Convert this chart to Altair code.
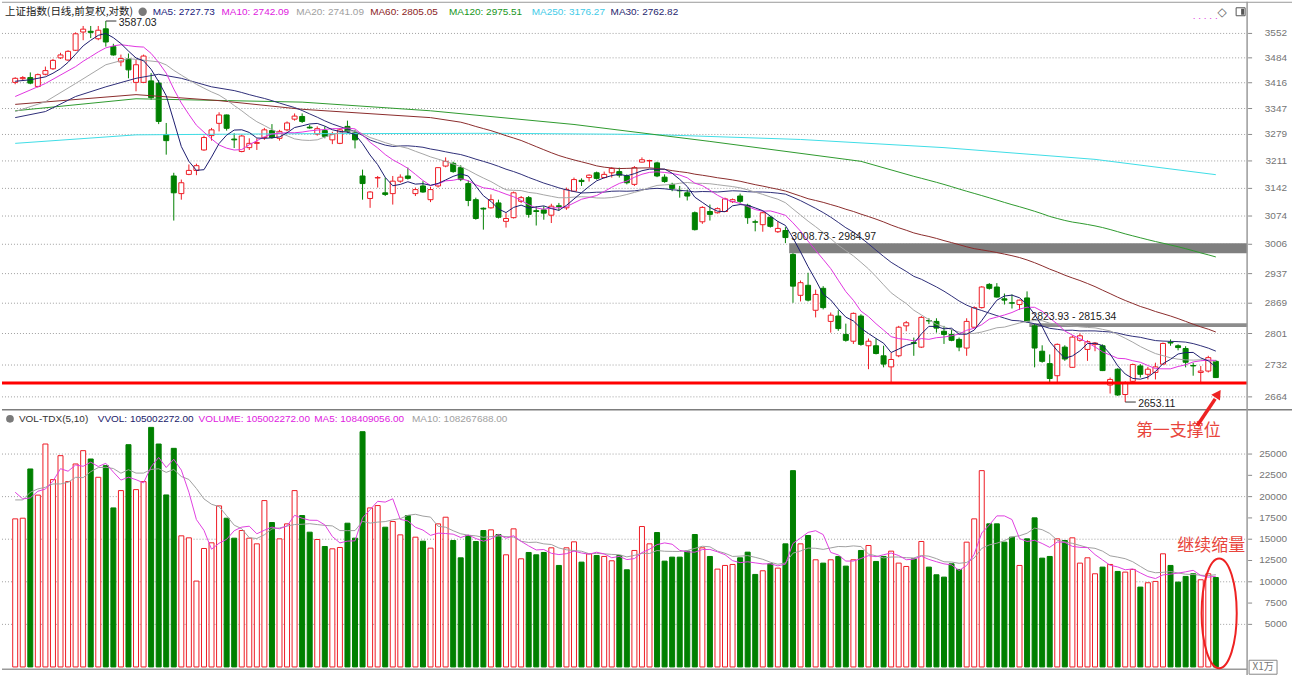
import altair as alt
import pandas as pd

# ---------------- data ----------------
OPEN = [3417,3427,3430,3406,3439,3454,3484,3478,3505,3556,
        3558,3537,3565,3515,3473,3481,3417,3417,3421,3415,
        3279,3173,3129,3177,3187,3239,3276,3308,3330,3267,
        3235,3245,3256,3271,3289,3269,3291,3319,3326,3298,
        3280,3289,3265,3256,3300,3283,3173,3117,3168,3131,
        3129,3160,3173,3129,3148,3114,3148,3198,3205,3194,
        3154,3114,3093,3094,3106,3061,3070,3110,3119,3087,
        3089,3076,3099,3094,3135,3162,3169,3181,3169,3181,
        3184,3173,3152,3208,3211,3206,3170,3152,3137,3131,
        3082,3060,3085,3082,3085,3109,3123,3100,3060,3053,
        3071,3036,3039,2982,2887,2910,2853,2903,2828,2840,
        2799,2784,2840,2774,2774,2752,2728,2752,2818,2781,
        2771,2830,2828,2806,2799,2788,2769,2815,2859,2912,
        2906,2879,2870,2866,2881,2818,2762,2735,2709,2771,
        2727,2786,2766,2777,2774,2689,2723,2669,2697,2730,
        2712,2716,2734,2782,2774,2768,2731,2716,2719,2740]
HIGH = [3431,3434,3444,3441,3460,3481,3498,3505,3555,3573,
        3573,3573,3587.03,3523,3493,3496,3478,3493,3442,3423,
        3309,3181,3164,3202,3204,3276,3296,3337,3331,3282,
        3278,3269,3269,3296,3306,3291,3313,3334,3334,3304,
        3300,3300,3286,3296,3315,3291,3189,3135,3173,3169,
        3173,3177,3194,3144,3160,3146,3195,3220,3209,3200,
        3162,3119,3095,3127,3114,3081,3134,3123,3123,3098,
        3098,3104,3106,3144,3169,3167,3177,3184,3184,3195,
        3194,3177,3198,3220,3214,3209,3177,3156,3148,3139,
        3085,3098,3102,3095,3119,3117,3129,3104,3065,3085,
        3074,3061,3047,2984.97,2921,2939,2900,2908,2848,2853,
        2823,2848,2844,2790,2790,2774,2759,2818,2829,2792,
        2840,2835,2835,2818,2810,2792,2835,2862,2908,2915,
        2915,2891,2889,2877,2896,2822,2775,2755,2779,2775,
        2797,2801,2786,2782,2777,2705,2725,2697,2735,2734,
        2728,2737,2781,2788,2777,2773,2737,2730,2752,2743]
LOW = [3412,3423,3412,3403,3436,3451,3481,3476,3503,3533,
       3539,3533,3515,3490,3461,3428,3393,3415,3370,3306,
       3227,3063,3114,3175,3175,3237,3263,3287,3289,3244,
       3233,3239,3239,3265,3268,3263,3287,3315,3309,3294,
       3276,3269,3254,3254,3283,3243,3114,3094,3144,3123,
       3102,3156,3164,3123,3131,3108,3144,3195,3181,3160,
       3098,3065,3041,3092,3068,3046,3068,3106,3070,3051,
       3065,3057,3087,3089,3134,3148,3159,3164,3167,3169,
       3169,3152,3148,3207,3194,3170,3156,3135,3119,3112,
       3039,3055,3063,3080,3084,3106,3106,3055,3037,3036,
       3046,3033,3008.73,2870,2873,2873,2837,2855,2803,2807,
       2783,2778,2774,2723,2755,2727,2694,2749,2806,2752,
       2769,2822,2803,2778,2784,2762,2752,2813,2857,2900,
       2882,2866,2857,2854,2825,2727,2737,2694,2694,2741,
       2726,2783,2741,2762,2719,2671,2666,2653.11,2694,2705,
       2701,2701,2733,2774,2764,2727,2709,2694,2716,2704]
CLOSE = [3428,3430,3415,3438,3449,3477,3492,3502,3551,3564,
         3555,3561,3528,3492,3482,3451,3465,3489,3376,3313,
         3263,3131,3156,3187,3199,3271,3291,3330,3295,3265,
         3275,3256,3258,3291,3271,3287,3309,3327,3313,3296,
         3294,3274,3279,3291,3287,3265,3154,3133,3169,3127,
         3160,3170,3167,3139,3133,3139,3194,3210,3184,3164,
         3112,3068,3091,3114,3071,3068,3131,3119,3078,3085,
         3081,3098,3097,3139,3164,3159,3175,3167,3177,3192,
         3175,3156,3194,3214,3212,3173,3159,3142,3136,3123,
         3041,3095,3078,3092,3116,3114,3110,3070,3059,3082,
         3049,3044,3022,2908,2916,2876,2889,2859,2842,2812,
         2786,2846,2777,2784,2757,2734,2744,2815,2825,2779,
         2837,2829,2813,2799,2786,2771,2828,2859,2906,2903,
         2883,2876,2869,2876,2828,2769,2740,2703,2777,2745,
         2793,2796,2783,2780,2720,2701,2668,2694,2733,2712,
         2723,2728,2779,2780,2770,2738,2730,2719,2748,2705]
# volume in units of 10,000 (x1万)
VOLUME = [17388,17466,23248,20177,26178,21998,24811,21763,23834,25397,
          24420,22271,23639,18677,20708,26100,20825,21763,28132,26178,
          20200,25670,15395,15160,10082,13910,14575,18911,17466,15121,
          16020,15121,14457,19536,16958,15043,16801,20708,17778,15825,
          14965,14145,13871,14027,16880,15121,27624,18677,18950,16411,
          17075,15512,17778,15238,14770,13949,16801,17583,14848,12816,
          15434,14731,16020,16098,15551,13168,16215,12699,13441,13168,
          13441,13988,11918,13988,14692,12308,13285,13090,12973,12465,
          13090,11410,13676,16489,14457,15785,12425,12894,12894,13598,
          15551,13988,12973,11488,11918,12035,12816,13480,10863,11293,
          12113,11605,14457,23053,14457,15434,12582,12192,12582,12973,
          11840,12582,13676,14262,12387,12973,13598,12192,11800,12699,
          14731,11722,10824,10550,12113,11449,14653,17388,23053,16801,
          16801,14653,15238,11918,15043,17505,12777,12973,15043,14848,
          15160,12192,12816,10941,11722,12035,11215,11136,11449,9378,
          9886,10042,13285,11918,9964,10628,10941,10238,10941,10500]

PRICE_TICKS = [3552, 3484, 3416, 3347, 3279, 3211, 3142, 3074, 3006, 2937, 2869, 2801, 2732, 2664]
VOL_TICKS = [25000, 22500, 20000, 17500, 15000, 12500, 10000, 7500, 5000]
VOL_GRID = [25000, 20000, 15000, 10000, 5000]

SUPPORT = 2693.5
GAP1 = [3008.73, 2984.97]
GAP1_START = 102.5
GAP2 = [2823.93, 2815.34]
GAP2_START = 134.3
HIGH_IDX, HIGH_VAL = 12, 3587.03
LOW_IDX, LOW_VAL = 147, 2653.11

MA5_EARLY_IDX, MA5_EARLY = [0, 2], [3420, 3424]
MA10_EARLY_IDX, MA10_EARLY = [0, 4, 8], [3379, 3414, 3460]
MA20_EARLY_IDX, MA20_EARLY = [0, 4, 8, 12, 15], [3339, 3365, 3414, 3465, 3482]
MA30_EARLY_IDX, MA30_EARLY = [0, 4, 8, 12, 16, 19, 22, 26], [3323, 3339, 3379, 3405, 3428, 3439, 3428, 3405]
MA60_EARLY_IDX, MA60_EARLY = [0, 16, 27, 38, 55], [3358, 3384, 3368, 3345, 3323]
MA120_EARLY_IDX, MA120_EARLY = [0, 16, 38, 55, 74, 92, 112], [3341, 3373, 3364, 3341, 3305, 3261, 3210]
MA250_IDX, MA250_VAL = [0, 16, 38, 64, 84, 104, 123, 143, 159], [3256, 3278, 3281, 3282, 3279, 3266, 3245, 3215, 3176.27]
VMA5_EARLY_IDX, VMA5_EARLY = [0, 1, 2, 3], [20513, 19732, 19849, 20630]
VMA10_EARLY_IDX, VMA10_EARLY = list(range(9)), [19614, 19614, 20513, 20904, 21099, 21490, 21490, 21685, 22271]

# ---------------- tables ----------------
N = len(CLOSE)
df = pd.DataFrame({"idx": list(range(N)), "open": OPEN, "high": HIGH, "low": LOW,
                   "close": CLOSE, "vol": VOLUME})
df["up"] = df["close"] >= df["open"]
df["body_hi"] = df[["open", "close"]].max(axis=1)
df["body_lo"] = df[["open", "close"]].min(axis=1)


def with_early(vals, w, eidx, evals):
    s = pd.Series(vals, dtype=float).rolling(w).mean()
    return list(eidx) + list(range(w - 1, len(vals))), list(evals) + s.iloc[w - 1:].tolist()


MA_NAMES = ["MA250", "MA120", "MA60", "MA30", "MA20", "MA10", "MA5"]
MA_COLORS = {"MA250": "#3fdde6", "MA120": "#2e9a2e", "MA60": "#8b2c2c", "MA30": "#2e2e78",
             "MA20": "#a6a6a6", "MA10": "#e035e0", "MA5": "#1c1c6e"}
ma_src = {
    "MA5": with_early(CLOSE, 5, MA5_EARLY_IDX, MA5_EARLY),
    "MA10": with_early(CLOSE, 10, MA10_EARLY_IDX, MA10_EARLY),
    "MA20": with_early(CLOSE, 20, MA20_EARLY_IDX, MA20_EARLY),
    "MA30": with_early(CLOSE, 30, MA30_EARLY_IDX, MA30_EARLY),
    "MA60": with_early(CLOSE, 60, MA60_EARLY_IDX, MA60_EARLY),
    "MA120": with_early(CLOSE, 120, MA120_EARLY_IDX, MA120_EARLY),
    "MA250": (MA250_IDX, MA250_VAL),
}
vma_src = {
    "VMA10": with_early(VOLUME, 10, VMA10_EARLY_IDX, VMA10_EARLY),
    "VMA5": with_early(VOLUME, 5, VMA5_EARLY_IDX, VMA5_EARLY),
}
VMA_COLORS = {"VMA10": "#a0a0a0", "VMA5": "#e040e0"}

# ---------------- styling ----------------
RED = "#ee1c25"
GREEN = "#008000"
W, TOP_H, BOT_H = 1248, 409, 260
NUMFONT = "Liberation Sans"
CJK = "Noto Sans CJK SC"
AXIS_GREY = "#9a9a9a"
LABEL_GREY = "#747474"

xs = alt.Scale(domain=[-1.088, 162.48], nice=False, zero=False)
ys = alt.Scale(type="log", domain=[2636.8, 3642.1], nice=False, zero=False)
vs = alt.Scale(domain=[-269, 30192], nice=False, zero=False)
X = alt.X("idx:Q", scale=xs, axis=None)

one = pd.DataFrame({"a": [0]})


def label(text, x, y, color, size=10, font=NUMFONT, align="left", baseline="middle"):
    return alt.Chart(one).mark_text(text=text, align=align, baseline=baseline, font=font,
                                    fontSize=size, color=color).encode(
        x=alt.value(x), y=alt.value(y))


def hline(y, x0, x1, color, width=1.0):
    return alt.Chart(one).mark_rule(color=color, strokeWidth=width).encode(
        x=alt.value(x0), x2=alt.value(x1), y=alt.value(y), y2=alt.value(y))


def vline(x, y0, y1, color, width=1.0):
    return alt.Chart(one).mark_rule(color=color, strokeWidth=width).encode(
        x=alt.value(x), x2=alt.value(x), y=alt.value(y0), y2=alt.value(y1))


def tick_layers(values, scale, grid_values):
    tdf = pd.DataFrame({"v": values, "t": [str(v) for v in values]})
    gdf = pd.DataFrame({"v": grid_values})
    grid = alt.Chart(gdf).mark_rule(strokeDash=[1, 2], color="#a0a0a0", strokeWidth=1).encode(
        y=alt.Y("v:Q", scale=scale, axis=None), x=alt.value(0), x2=alt.value(W))
    ticks = alt.Chart(tdf).mark_rule(color="#8a8a8a", strokeWidth=1).encode(
        y=alt.Y("v:Q", scale=scale, axis=None), x=alt.value(W + 1), x2=alt.value(W + 5))
    labels = alt.Chart(tdf).mark_text(align="right", baseline="middle", font=NUMFONT, fontSize=10,
                                      color=LABEL_GREY).encode(
        y=alt.Y("v:Q", scale=scale, axis=None), x=alt.value(1288), text="t:N")
    return [grid, ticks, labels]


base = alt.Chart(df)
updown_fill = alt.condition("datum.up", alt.value("white"), alt.value(GREEN))
updown_stroke = alt.condition("datum.up", alt.value(RED), alt.value(GREEN))

# ---------------- price panel ----------------
wicks = base.mark_rule(strokeWidth=1).encode(
    x=X, y=alt.Y("low:Q", scale=ys, axis=None), y2="high:Q", color=updown_stroke)
bodies = base.mark_bar(size=5, strokeWidth=1).encode(
    x=X, y=alt.Y("body_hi:Q", scale=ys, axis=None), y2="body_lo:Q",
    fill=updown_fill, stroke=updown_stroke)

gap1 = alt.Chart(pd.DataFrame({"top": [GAP1[0]], "bot": [GAP1[1]], "s": [GAP1_START]})).mark_rect(
    color="#7f7f7f").encode(x=alt.X("s:Q", scale=xs, axis=None), x2=alt.value(W),
                            y=alt.Y("top:Q", scale=ys, axis=None), y2="bot:Q")
gap2 = alt.Chart(pd.DataFrame({"top": [GAP2[0]], "bot": [GAP2[1]], "s": [GAP2_START]})).mark_rect(
    color="#8c8c8c").encode(x=alt.X("s:Q", scale=xs, axis=None), x2=alt.value(W),
                            y=alt.Y("top:Q", scale=ys, axis=None), y2="bot:Q")
gap_labels = alt.Chart(pd.DataFrame({
    "s": [GAP1_START, GAP2_START], "top": [GAP1[0], GAP2[0]],
    "t": [f"{GAP1[0]:.2f} - {GAP1[1]:.2f}", f"{GAP2[0]:.2f} - {GAP2[1]:.2f}"]})).mark_text(
    align="left", baseline="bottom", dx=2, dy=-1, font=NUMFONT, fontSize=10.5, color="#1a1a1a").encode(
    x=alt.X("s:Q", scale=xs, axis=None), y=alt.Y("top:Q", scale=ys, axis=None), text="t:N")


def ma_layer(src, name, color, scale):
    ix, vv = src[name]
    d = pd.DataFrame({"idx": ix, "val": vv})
    return alt.Chart(d).mark_line(strokeWidth=1, clip=True, color=color).encode(
        x=X, y=alt.Y("val:Q", scale=scale, axis=None), order=alt.Order("idx:Q"))


ma_lines = [ma_layer(ma_src, n, MA_COLORS[n], ys) for n in MA_NAMES]

support = alt.Chart(pd.DataFrame({"p": [SUPPORT]})).mark_rule(color="#ff0000", strokeWidth=3).encode(
    y=alt.Y("p:Q", scale=ys, axis=None), x=alt.value(0), x2=alt.value(W))

ext_df = pd.DataFrame({"idx": [HIGH_IDX, LOW_IDX], "p": [HIGH_VAL, LOW_VAL],
                       "end": [HIGH_IDX + 1.4, LOW_IDX + 1.4],
                       "t": [f"{HIGH_VAL:.2f}", f"{LOW_VAL:.2f}"]})
ext_lead = alt.Chart(ext_df).mark_rule(color="#333333", strokeWidth=1).encode(
    x=X, x2="end:Q", y=alt.Y("p:Q", scale=ys, axis=None))
ext_text = alt.Chart(ext_df).mark_text(align="left", baseline="middle", dx=13, dy=2, font=NUMFONT,
                                       fontSize=10.5, color="#1a1a1a").encode(
    x=X, y=alt.Y("p:Q", scale=ys, axis=None), text="t:N")

top_layers = tick_layers(PRICE_TICKS, ys, PRICE_TICKS)
top_layers += [gap1, gap2, wicks, bodies] + ma_lines + [support, gap_labels, ext_lead, ext_text]
top_layers += [
    hline(0.5, 0, 1293, "#9a9a9a", 1),
    label("上证指数(日线,前复权,对数)", 3, 10, "#1a1a1a", size=10.5, font=CJK),
    label("MA5: 2727.73", 151, 10, "#20207a"),
    label("MA10: 2742.09", 220, 10, "#e020e0"),
    label("MA20: 2741.09", 295, 10, "#a0a0a0"),
    label("MA60: 2805.05", 369, 10, "#8b1c1c"),
    label("MA120: 2975.51", 448, 10, "#16961a"),
    label("MA250: 3176.27", 531, 10, "#3fcbe8"),
    label("MA30: 2762.82", 610, 10, "#26266e"),
    alt.Chart(one).mark_point(filled=True, size=70, color="#7a7a7a", opacity=1).encode(
        x=alt.value(141), y=alt.value(10)),
    label("◇", 1223, 10, "#666666", size=12, font="DejaVu Sans", align="center"),
    alt.Chart(one).mark_rect(fill="white", stroke="#555555", strokeWidth=1).encode(
        x=alt.value(1237), x2=alt.value(1246), y=alt.value(6), y2=alt.value(14)),
    alt.Chart(one).mark_rect(fill="#555555").encode(
        x=alt.value(1242), x2=alt.value(1245), y=alt.value(7), y2=alt.value(13)),
    label(". . . . .", 1206, 14, "#e040e0", size=10, align="center"),
]
top = alt.layer(*top_layers).properties(width=W, height=TOP_H)

# ---------------- volume panel ----------------
vbars = base.mark_bar(size=5, strokeWidth=1).encode(
    x=X, y=alt.Y("vol:Q", scale=vs, axis=None), y2=alt.datum(0),
    fill=updown_fill, stroke=updown_stroke)
vma_lines = [ma_layer(vma_src, n, VMA_COLORS[n], vs) for n in ["VMA10", "VMA5"]]

ELLIPSE = ("M 0 -1 C 0.1767 -1 0.32 -0.5523 0.32 0 C 0.32 0.5523 0.1767 1 0 1 "
           "C -0.1767 1 -0.32 0.5523 -0.32 0 C -0.32 -0.5523 -0.1767 -1 0 -1 Z")

bot_layers = tick_layers(VOL_TICKS, vs, VOL_GRID)
bot_layers += [vbars] + vma_lines + [
    hline(0, 0, 1293, "#7d7d7d", 1.5),
    hline(260, 0, W, "#9a9a9a", 1.5),
    vline(W, -409, 266, AXIS_GREY, 1.5),
    alt.Chart(one).mark_point(filled=True, size=60, color="#7a7a7a", opacity=1).encode(
        x=alt.value(8), y=alt.value(9)),
    label("VOL-TDX(5,10)", 17, 9, "#333333"),
    label("VVOL: 105002272.00", 96, 9, "#20206a"),
    label("VOLUME: 105002272.00", 197, 9, "#e020e0"),
    label("MA5: 108409056.00", 313, 9, "#e020e0"),
    label("MA10: 108267688.00", 411, 9, "#a0a0a0"),
    label("第一支撑位", 1179, 21, "#e8453c", size=17, font=CJK, align="center"),
    label("继续缩量", 1212, 136, "#e8453c", size=17, font=CJK, align="center"),
    alt.Chart(one).mark_point(shape=ELLIPSE, size=12100, filled=False, stroke="#ee2222",
                              strokeWidth=2, opacity=1).encode(x=alt.value(1220), y=alt.value(204)),
    alt.Chart(one).mark_rule(color="#ee2222", strokeWidth=3.5).encode(
        x=alt.value(1198), x2=alt.value(1216), y=alt.value(16), y2=alt.value(-11)),
    alt.Chart(one).mark_point(shape="triangle-up", angle=34, size=110, filled=True,
                              color="#ee2222", opacity=1).encode(x=alt.value(1219), y=alt.value(-16)),
    alt.Chart(one).mark_rect(fill="white", stroke="#888888", strokeWidth=1).encode(
        x=alt.value(1250), x2=alt.value(1278), y=alt.value(251), y2=alt.value(265)),
    label("X1万", 1264, 258, "#777777", size=10, font=CJK, align="center"),
]
bottom = alt.layer(*bot_layers).properties(width=W, height=BOT_H)

chart = alt.vconcat(top, bottom, spacing=0, bounds="flush").configure_view(stroke=None).properties(
    padding={"left": 0, "top": 0, "right": 0, "bottom": 0}, background="white")

chart.save("out.html", embed_options={"renderer": "svg", "actions": False})
